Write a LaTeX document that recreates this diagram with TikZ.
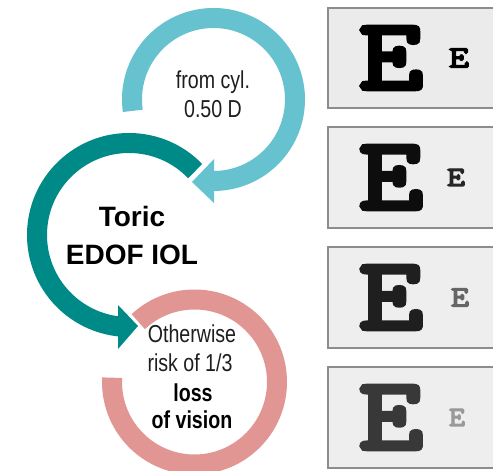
\documentclass[tikz,border=0pt]{standalone}
\usepackage{fontspec}
\usepackage{graphicx}
\setmainfont{Liberation Sans}
\newfontfamily\condfont[FakeStretch=0.8]{Liberation Sans}
\newfontfamily\efont[FakeBold=4.5]{Latin Modern Mono}
\usetikzlibrary{calc}
\definecolor{cblue}{HTML}{66C2CF}
\definecolor{cteal}{HTML}{008A87}
\definecolor{cpink}{HTML}{E29694}
\definecolor{ctext}{HTML}{1E1E1E}
\definecolor{boxfill}{HTML}{EBEBEB}
\definecolor{boxfillb}{HTML}{EEEEEE}
\definecolor{boxline}{HTML}{8C8C8C}
\newcommand{\Eg}[2]{\resizebox{#1}{#2}{\efont E}}
\tikzset{
  ring/.style={line width=20pt},
  condtxt/.style={font=\condfont\fontsize{24.5}{29}\selectfont, text=ctext, inner sep=0pt, anchor=base},
  condbold/.style={font=\condfont\bfseries\fontsize{24.5}{29}\selectfont, text=black, inner sep=0pt, anchor=base},
  boldtxt/.style={font=\bfseries\fontsize{28}{34}\selectfont, text=black, inner sep=0pt, anchor=base},
  chart/.style={draw=boxline, fill=boxfill, line width=2pt},
  chartb/.style={draw=boxline, fill=boxfillb, line width=2pt},
  eglyph/.style={inner sep=0pt, anchor=center}
}
\begin{document}
\begin{tikzpicture}[x=1pt,y=1pt]
\useasboundingbox (0,0) rectangle (493,471);
\fill[white] (0,0) rectangle (493,471);

% light blue ring with arrow
\coordinate (bc) at (213.5,371.5);
\draw[ring, cblue] ($(bc)+(188:81.5)$) arc[start angle=188, end angle=-91, radius=81.5];
\fill[cblue] (214,312) -- (214,268) -- (192,289) -- cycle;

% teal ring with arrow
\coordinate (tc) at (129,236);
\draw[ring, cteal] ($(tc)+(44:92)$) arc[start angle=44, end angle=264, radius=92];
\fill[cteal] (118,166) -- (118,122) -- (138,145) -- cycle;

% pink ring
\coordinate (pc) at (194.5,89);
\draw[ring, cpink] ($(pc)+(133:82.5)$) arc[start angle=133, end angle=-183, radius=82.5];

% texts
\node[condtxt] (from) at (213,382) {from cyl.};
\node[condtxt] (dpt) at (213,353) {0.50 D};
\node[boldtxt] (toric) at (132,244) {Toric};
\node[boldtxt] (edof) at (132,206) {EDOF IOL};
\node[condtxt] (oth) at (192,128) {Otherwise};
\node[condtxt] (risk) at (190,99) {risk of 1/3};
\node[condbold] (loss) at (193,69) {loss};
\node[condbold] (vis) at (192,42) {of vision};

% eye chart boxes (right edge runs off the picture)
\begin{scope}
\clip (0,0) rectangle (493,471);
\draw[chart] (328,363) rectangle (505,463);
\draw[chartb] (328,243) rectangle (505,344);
\draw[chartb] (328,123) rectangle (505,224);
\draw[chartb] (328,3) rectangle (505,104);
\end{scope}

\node[eglyph, text=black] (E1) at (391,413) {\Eg{64pt}{62pt}};
\node[eglyph, text=black] (e1) at (459,413) {\Eg{20pt}{19pt}};

\node[eglyph, text=black!95] (E2) at (391,293.5) {\Eg{64pt}{63pt}};
\node[eglyph, text=black!85] (e2) at (456,293.5) {\Eg{18pt}{17pt}};

\node[eglyph, text=black!88] (E3) at (391,173.5) {\Eg{64pt}{63pt}};
\node[eglyph, text=black!60] (e3) at (460,173.5) {\Eg{18pt}{18pt}};

\node[eglyph, text=black!78] (E4) at (391,53.5) {\Eg{64pt}{63pt}};
\node[eglyph, text=black!40] (e4) at (457,53.5) {\Eg{16pt}{17pt}};
\end{tikzpicture}
\end{document}
